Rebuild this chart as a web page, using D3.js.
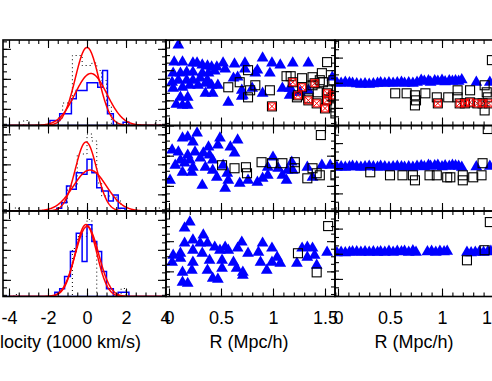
<!DOCTYPE html>
<html>
<head>
<meta charset="utf-8">
<script src="https://cdn.jsdelivr.net/npm/d3@7"></script>
<style>
  body { margin: 0; background: #fff; }
  svg { display: block; }
  text { font-family: "Liberation Sans", Arial, sans-serif; }
</style>
</head>
<body>
<svg width="492" height="381"></svg>
<script>
// ---- column 1: velocity histograms (1000 km/s, counts) ----
const histEdgesTop = [-1.9, -1.4, -0.8, -0.55, 0, 0.55, 0.8, 1.05, 1.35, 1.85, 2.15]
const histCountsTop = [1.0, 2.35, 5.35, 7.0, 8.55, 7.65, 11.0, 2.35, 0, 0.65]
const histEdgesMid = [-1.55, -1.3, -1.05, -0.85, -0.55, -0.25, 0, 0.25, 0.5, 0.75, 1.1, 1.35, 1.6, 1.95]
const histCountsMid = [0.55, 1.65, 5.0, 4.35, 7.65, 7.35, 10.35, 7.65, 4.65, 4.0, 2.0, 3.2, 0.55]
const histEdgesBot = [-1.65, -1.4, -1.15, -0.85, -0.55, -0.25, 0, 0.25, 0.5, 0.75, 1.0, 1.35, 1.6, 2.15]
const histCountsBot = [0.85, 1.55, 4.0, 9.0, 12.65, 7.0, 14.35, 11.0, 9.0, 5.0, 1.55, 0, 0.85]

// dotted comparison histograms
const dotEdgesTop = [-3.25, -3.0, -1.5, -1.25, -0.75, -0.25, 0.25, 0.5, 0.75, 1.0, 1.25, 3.5, 3.75]
const dotCountsTop = [1, 0, 1.5, 4.5, 14, 12, 12.5, 11, 9, 4, 0, 1]
const dotEdgesMid = [-3.75, -3.5, -1.0, -0.5, 0, 0.25, 0.5, 0.75, 1.5, 1.75, 3.5, 3.75]
const dotCountsMid = [0.6, 0, 5, 11.4, 15.4, 14, 5.6, 3, 2, 0, 0.6]
const dotEdgesBot = [-3.75, -3.5, -0.75, -0.5, 0, 0.25, 0.5, 1.75, 2.0]
const dotCountsBot = [0.4, 0, 9.6, 12, 15.4, 11, 0, 1.6]

// gaussian fits: [amplitude, mean, sigma]
const fitsTop = [[15.6, 0, 0.6], [10.4, 0.2, 0.82]]
const fitsMid = [[13.8, -0.05, 0.55], [8.2, 0.15, 0.85]]
const fitsBot = [[14.4, -0.05, 0.55], [14.0, 0, 0.6]]

const velTicks = [-4, -2, 0, 2, 4]

// ---- column 2: R (Mpc/h) vs velocity ----
const tri2Top = [[0.09,3.75],[0.05,2.05],[0.13,2.05],[0.23,1.95],[0.27,1.95],[0.32,1.75],[0.37,1.65],[0.41,1.55],[0.46,1.55],[0.52,1.95],[0.63,1.85],[0.73,1.95],[0.90,2.45],[0.99,1.95],[1.07,1.75],[1.19,1.95],[1.34,1.95],
  [0.04,0.95],[0.11,0.95],[0.17,1.05],[0.23,1.05],[0.32,0.95],[0.38,0.95],[0.44,1.15],[0.54,1.35],[0.73,1.35],[0.85,1.25],[0.83,0.95],[0.97,0.95],
  [0.03,0.05],[0.09,0.25],[0.17,0.25],[0.23,0.25],[0.30,0.45],[0.37,0.25],[0.62,0.45],[0.66,0.55],
  [0.13,-0.45],[0.20,-0.25],[0.28,-0.25],[0.35,-0.05],[0.41,-0.25],[0.47,-0.25],[0.04,-0.55],[0.70,-0.75],[0.80,-0.55],
  [0.35,-1.05],[0.42,-1.05],[0.71,-1.25],[0.90,-1.05],[1.09,-0.55],[1.16,-0.55],[1.19,-0.95],[1.16,-1.25],[1.26,-0.95],[1.34,-0.75],
  [0.11,-1.45],[0.18,-1.45],[0.13,-2.25],[0.18,-2.25],[0.07,-2.15],[0.57,-1.95],[0.70,-1.35],[1.57,0.55]]
const sq2Top = [[0.76,1.25],[0.68,0.05],[0.57,-0.45],[0.83,-0.25],[0.78,-0.75],[0.76,-1.45],[0.97,-0.75],[1.13,0.65],[1.17,0.65],[1.28,0.45],[1.38,0.55],[1.47,0.95],[1.52,2.05],[1.45,0.25],[1.48,0.05],[1.23,-1.45],[1.34,-1.55],[1.38,-0.25],[1.43,-0.95],[1.53,-0.75],[1.58,0.25],[1.60,-3.05],[1.58,-1.45],[1.60,-2.45]]
const cross2Top = [[1.19,0.05],[1.28,-0.45],[1.40,-0.05],[1.24,-1.25],[1.34,-1.75],[1.42,-2.05],[1.52,-1.05],[1.58,-1.25],[1.50,-2.55],[1.52,-1.75],[0.99,-2.35]]

const tri2Mid = [[0.27,3.5],[0.13,3.0],[0.18,3.1],[0.49,3.0],[0.66,2.8],[0.23,2.6],[0.47,2.3],[0.59,2.1],[0.38,2.1],[0.09,1.6],[0.25,1.6],[0.33,1.5],[0.63,1.5],[0.18,1.3],[0.30,1.0],[0.11,0.8],[0.42,0.8],[1.00,1.1],[1.18,0.6],[1.33,0.1],[1.47,0.3],[1.55,0.3],
  [0.06,0.3],[0.15,0.5],[0.23,0.1],[0.35,0.1],[0.52,0.3],[0.95,0.1],[1.05,0.0],[0.13,-0.4],[0.22,-0.4],[0.42,-0.2],[0.56,-0.5],[1.14,-0.2],[1.19,-0.2],
  [0.01,-1.2],[0.32,-1.7],[0.46,-0.9],[0.57,-1.2],[0.54,-2.0],[0.68,-1.5],[0.76,-1.2],[0.85,-1.4],[0.90,-1.0],[0.95,-0.7],[1.09,-0.7],[1.13,-1.2],[1.38,-0.9],[0.20,0.8],[0.39,1.3],[0.03,1.8]]
const sq2Mid = [[1.46,3.3],[0.51,0.3],[0.63,0.0],[0.74,0.1],[0.75,-0.5],[0.89,0.6],[0.99,0.5],[1.09,0.5],[1.21,0.6],[1.21,0.0],[1.38,0.0],[1.42,-0.5],[1.45,-0.7],[1.33,-1.0],[1.60,-0.7]]

const tri2Bot = [[0.20,3.15],[0.15,2.55],[0.33,1.85],[0.23,1.35],[0.15,1.05],[0.30,1.05],[0.37,1.05],[0.70,1.15],[0.44,0.65],[0.54,0.65],[0.66,0.55],[0.90,1.05],[0.99,0.55],[1.33,0.65],[1.38,0.55],[1.28,0.55],
  [0.11,0.05],[0.04,-0.15],[0.23,0.35],[0.32,0.05],[0.49,0.35],[0.57,0.35],[0.76,0.05],[0.86,0.15],[1.04,-0.35],[1.40,-0.15],[1.52,0.15],
  [0.03,-0.85],[0.11,-0.45],[0.23,-0.85],[0.39,-0.65],[0.51,-0.65],[0.62,-0.85],[0.88,-0.85],[0.99,-0.85],[1.07,-0.95],[1.23,-0.95],[1.33,-0.35],[1.42,-1.15],
  [0.13,-1.85],[0.22,-1.65],[0.37,-1.65],[0.51,-1.45],[0.65,-1.45],[0.71,-1.85],[0.94,-1.65],[0.47,-2.55],[0.42,-2.45],[0.13,-2.85],[0.18,-2.95],[0.71,-2.15]]
const sq2Bot = [[1.53,2.75],[1.24,0.05],[1.42,-1.85]]

// ---- column 3: R (Mpc/h) vs velocity, tight band ----
const bandR = [-0.01,0.03,0.07,0.11,0.14,0.18,0.22,0.26,0.30,0.34,0.38,0.41,0.45,0.49,0.53,0.57,0.61,0.64,0.68,0.72,0.76,0.80,0.83,0.87,0.89,0.93,0.96,1.00,1.03,1.07,1.10,1.13,1.16,1.19,1.33,1.46]
const bandVTop = [0,-0.05,0.05,0,-0.05,-0.1,-0.15,-0.1,-0.15,-0.1,-0.05,0,-0.05,0,-0.05,0,0.05,-0.05,0,-0.05,0.05,0.25,0.15,0.2,0.05,0.2,0.15,0.25,0.1,0.2,0.15,0.2,0.15,0.3,0.05,0.05]
const bandVMid = [0.1,0.15,0.1,0.15,0.2,0.15,0.1,0.15,0.2,0.15,0.1,0.2,0.15,0.1,0.15,0.2,0.15,0.1,0.15,0.1,0.2,0.25,0.15,0.3,0.2,0.25,0.3,0.15,0.25,0.2,0.3,0.25,0.2,0.1,0.15,0.2]
const bandRBot = [-0.01,0.03,0.07,0.11,0.14,0.18,0.22,0.26,0.30,0.34,0.38,0.41,0.45,0.49,0.53,0.57,0.61,0.64,0.68,0.72,0.75,0.86,0.90,0.94,0.98,1.02,1.05,1.24,1.28,1.32,1.36,1.40,1.44,1.47]
const bandVBot = [0.1,0.15,0.1,0.15,0.2,0.2,0.15,0.2,0.15,0.2,0.15,0.2,0.15,0.25,0.15,0.25,0.2,0.25,0.15,0.3,0.15,0.2,0.25,0.15,0.25,0.2,0.25,0.15,0.1,0.15,0.2,0.15,0.2,0.25]
const sq3Top = [[0.55,-1.05],[0.66,-1.05],[0.74,-1.25],[0.75,-1.75],[0.74,-2.25],[0.84,-1.05],[0.95,-1.45],[1.06,-1.45],[1.15,-1.45],[1.15,-0.75],[1.27,-0.75],[1.41,-0.25],[1.43,-0.95],[1.44,-1.45],[1.41,-2.75],[1.48,2.25]]
const cross3Top = [[0.96,-2.05],[1.17,-2.05],[1.22,-2.05],[1.27,-1.95],[1.34,-2.05],[1.39,-2.05],[1.45,-2.05]]
const sq3Mid = [[0.31,-0.4],[0.50,-0.7],[0.62,-0.7],[0.72,-0.7],[0.74,-1.2],[0.88,-0.7],[0.95,-0.7],[1.05,-0.9],[1.08,-0.9],[1.20,-0.7],[1.20,-1.2],[1.30,-0.9],[1.38,-0.7],[1.39,0.5],[1.44,3.9]]
const sq3Bot = [[1.24,-0.65],[1.41,0.35],[1.46,3.15]]

const rTicks = [0, 0.5, 1, 1.5]

// ---- layout ----
const svg = d3.select('svg')
const cols = [{ x0: 3, x1: 166 }, { x0: 166, x1: 335 }, { x0: 335, x1: 504 }]
const rows = [{ y0: 40, y1: 125.5 }, { y0: 125.5, y1: 211 }, { y0: 211, y1: 296.5 }]
const blue = '#0000ff', red = '#ff0000'

const xVel = d3.scaleLinear().domain([-4, 4]).range([9, 165])
const xR = [
  null,
  d3.scaleLinear().domain([0, 1]).range([169, 273]),
  d3.scaleLinear().domain([0, 1]).range([338, 442]),
]
const yCount = rows.map(r => d3.scaleLinear().domain([0, 17]).range([r.y1, r.y1 - 85]))
const yVel = rows.map(r => d3.scaleLinear().domain([-4.25, 4.25]).range([r.y1, r.y0]))

const defs = svg.append('defs')
cols.forEach((c, ci) => rows.forEach((r, ri) => {
  defs.append('clipPath').attr('id', `clip${ ci }${ ri }`)
    .append('rect').attr('x', c.x0).attr('y', r.y0).attr('width', c.x1 - c.x0).attr('height', r.y1 - r.y0)
}))

// ---- column 1 ----
const hist = [
  [histEdgesTop, histCountsTop, dotEdgesTop, dotCountsTop, fitsTop],
  [histEdgesMid, histCountsMid, dotEdgesMid, dotCountsMid, fitsMid],
  [histEdgesBot, histCountsBot, dotEdgesBot, dotCountsBot, fitsBot],
]

function stepPoints(edges, counts) {
  const pts = [[edges[0], 0]]
  counts.forEach((n, i) => { pts.push([edges[i], n], [edges[i + 1], n]) })
  pts.push([edges[edges.length - 1], 0])
  return pts
}

hist.forEach(([he, hc, de, dc, fits], ri) => {
  const y = yCount[ri]
  const line = d3.line().x(d => xVel(d[0])).y(d => y(d[1]))
  const g = svg.append('g').attr('clip-path', `url(#clip0${ ri })`)

  g.append('path').attr('d', line(stepPoints(de, dc)))
    .attr('fill', 'none').attr('stroke', '#000').attr('stroke-width', 1)
    .attr('stroke-dasharray', '1 3')

  g.append('path').attr('d', line([[xVel.invert(cols[0].x0), 0], [xVel.invert(cols[0].x1), 0]]))
    .attr('stroke', blue).attr('stroke-width', 1.5)
  g.append('path').attr('d', line(stepPoints(he, hc)))
    .attr('fill', 'none').attr('stroke', blue).attr('stroke-width', 1.5)

  const grid = d3.range(-4, 3.905, 0.02)
  fits.forEach(([a, mu, s]) => {
    g.append('path')
      .attr('d', line(grid.map(v => [v, a * Math.exp(-0.5 * ((v - mu) / s) ** 2)])))
      .attr('fill', 'none').attr('stroke', red).attr('stroke-width', 1.5)
  })
})

// ---- scatter columns ----
const triangle = d3.symbol(d3.symbolTriangle, 60)
const scatter = [
  [[tri2Top, sq2Top, cross2Top], [tri2Mid, sq2Mid, []], [tri2Bot, sq2Bot, []]],
  [
    [bandR.map((r, i) => [r, bandVTop[i]]), sq3Top, cross3Top],
    [bandR.map((r, i) => [r, bandVMid[i]]), sq3Mid, []],
    [bandRBot.map((r, i) => [r, bandVBot[i]]), sq3Bot, []],
  ],
]

scatter.forEach((colData, k) => {
  const ci = k + 1
  const x = xR[ci]
  colData.forEach(([tri, sq, cross], ri) => {
    const y = yVel[ri]
    const g = svg.append('g').attr('clip-path', `url(#clip${ ci }${ ri })`)
    g.selectAll('path.tri').data(tri).join('path').classed('tri', true)
      .attr('d', triangle)
      .attr('transform', d => `translate(${ x(d[0]) },${ y(d[1]) })`)
      .attr('fill', blue)
    g.selectAll('rect.sq').data(sq.concat(cross)).join('rect').classed('sq', true)
      .attr('x', d => x(d[0]) - 4.5).attr('y', d => y(d[1]) - 4.5)
      .attr('width', 9).attr('height', 9)
      .attr('fill', 'none').attr('stroke', '#000').attr('stroke-width', 1.1)
    const cg = g.selectAll('g.cross').data(cross).join('g').classed('cross', true)
      .attr('transform', d => `translate(${ x(d[0]) },${ y(d[1]) })`)
    cg.append('rect').attr('x', -3.5).attr('y', -3.5).attr('width', 7).attr('height', 7)
      .attr('fill', 'none').attr('stroke', red).attr('stroke-width', 1)
    cg.append('path').attr('d', 'M-3.5,-3.5L3.5,3.5M-3.5,3.5L3.5,-3.5')
      .attr('stroke', red).attr('stroke-width', 1)
  })
})

// ---- frames and ticks ----
const xTickSets = [
  { minor: d3.range(-4, 4.01, 0.5), major: velTicks },
  { minor: d3.range(0, 1.61, 0.1), major: rTicks },
  { minor: d3.range(0, 1.61, 0.1), major: rTicks },
]
const yTickFor = (ci, ri) => {
  if (ci === 0) {
    const v = d3.range(0.33, 17, 1.5)
    return { y: yCount[ri], minor: v, major: v.filter((d, i) => i % 4 === 2) }
  }
  if (ci === 1) {
    const v = d3.range(4.25, -4.3, -0.75)
    return { y: yVel[ri], minor: v, major: v.filter((d, i) => i % 4 === 0) }
  }
  const v = d3.range(-5, 6).map(k => k * 0.8333)
  return { y: yVel[ri], minor: v, major: v.filter((d, i) => (i - 5) % 3 === 0) }
}
const xScaleFor = ci => ci === 0 ? xVel : xR[ci]

cols.forEach((c, ci) => rows.forEach((r, ri) => {
  const g = svg.append('g')
  const x = xScaleFor(ci)
  const { y, minor: yMinor, major: yMajor } = yTickFor(ci, ri)
  const add = (axis, tx, ty) => g.append('g')
    .attr('transform', `translate(${ tx },${ ty })`)
    .call(axis)
    .call(s => s.select('.domain').remove())
    .call(s => s.selectAll('line').attr('stroke-width', 1.1))
  ;[[xTickSets[ci].minor, 4], [xTickSets[ci].major, 8]].forEach(([vals, len]) => {
    add(d3.axisBottom(x).tickValues(vals).tickSize(-len).tickFormat(''), 0, r.y1)
    add(d3.axisTop(x).tickValues(vals).tickSize(-len).tickFormat(''), 0, r.y0)
  })
  ;[[yMinor, 4], [yMajor, 8]].forEach(([vals, len]) => {
    add(d3.axisLeft(y).tickValues(vals).tickSize(-len).tickFormat(''), c.x0, 0)
    add(d3.axisRight(y).tickValues(vals).tickSize(-len).tickFormat(''), c.x1, 0)
  })
  g.append('rect').attr('x', c.x0).attr('y', r.y0)
    .attr('width', c.x1 - c.x0).attr('height', r.y1 - r.y0)
    .attr('fill', 'none').attr('stroke', '#000').attr('stroke-width', 1.6)
}))

// ---- tick labels and titles on the bottom row ----
const bottom = rows[2].y1
;[0, 1, 2].forEach(ci => {
  const x = xScaleFor(ci)
  svg.append('g').attr('transform', `translate(0,${ bottom })`)
    .call(d3.axisBottom(x).tickValues(ci === 0 ? velTicks : rTicks).tickSize(0).tickPadding(15).tickFormat(d => String(d)))
    .call(s => s.select('.domain').remove())
    .call(s => s.selectAll('text').attr('font-size', 18).attr('font-family', '"Liberation Sans", Arial, sans-serif').attr('fill', '#000'))
})

const titles = [
  { text: 'Velocity (1000 km/s)', x: 141, anchor: 'end' },
  { text: 'R (Mpc/h)', x: 249, anchor: 'middle' },
  { text: 'R (Mpc/h)', x: 414, anchor: 'middle' },
]
svg.selectAll('text.title').data(titles).join('text').classed('title', true)
  .attr('x', d => d.x).attr('y', 348)
  .attr('text-anchor', d => d.anchor)
  .attr('font-size', 18)
  .text(d => d.text)
</script>
</body>
</html>
